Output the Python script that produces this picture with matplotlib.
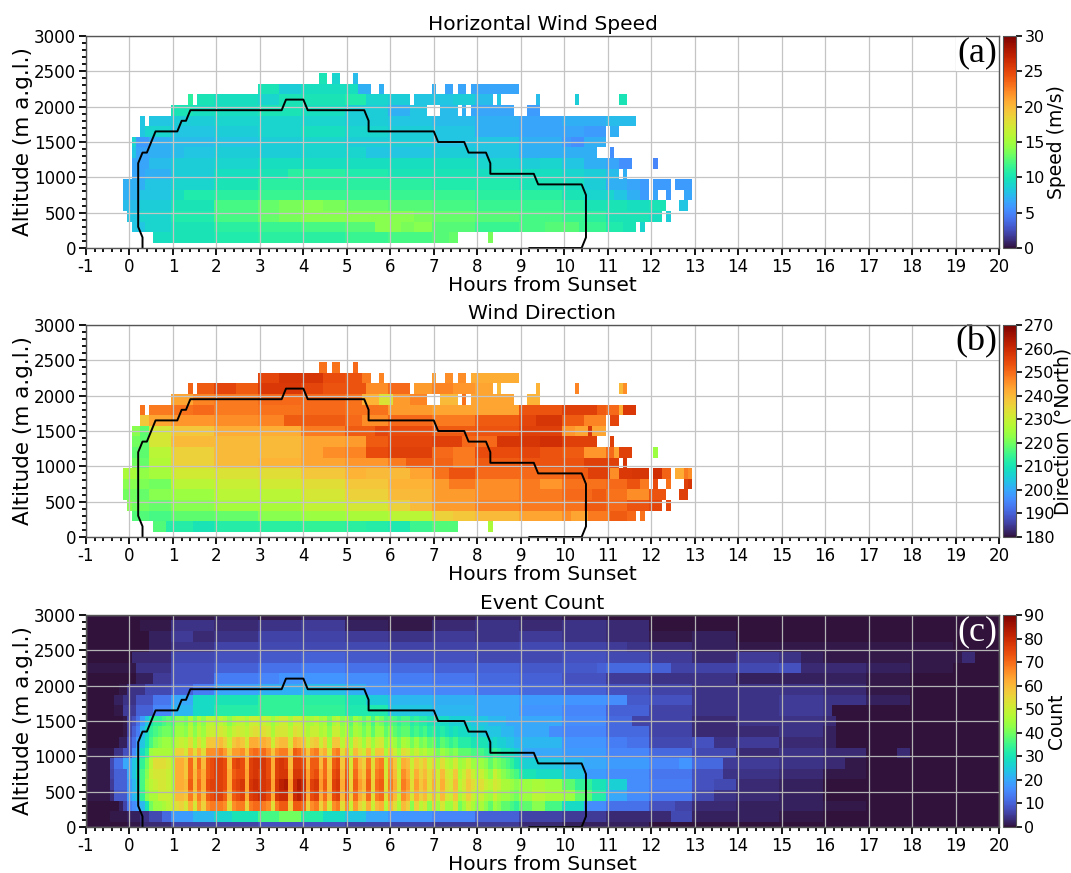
import numpy as np
import matplotlib
matplotlib.use("Agg")
import matplotlib.pyplot as plt
from matplotlib.ticker import MultipleLocator

plt.rcParams["axes.unicode_minus"] = False

N = np.nan
hours = np.round(np.arange(-1, 20.01, 0.1), 1)
altitudes = np.arange(0, 3001, 150)

# Each row: (first hour, value) break points; a value holds until the next break point.
speed_rows = {
 150: [(.6,9.5),(1,10),(2,10.5),(3,11),(4,11),(5,11.5),(6,12),(7,12.5),(7.4,13),(7.6,N),(8.3,13.5),(8.4,N)],
 300: [(.1,8),(.4,9),(1,10),(2,11),(3,11.5),(4,12),(5,12.5),(5.7,14),(6.3,13.5),(6.6,14),(7,12.5),(8,11.5),(9,12),(9.6,12.5),(10.4,11.5),(11,10.5),(11.4,10),(11.7,N),(11.8,9),(11.9,N)],
 450: [(0,8),(.3,9),(1,10.5),(2,12),(3,13),(3.5,13.5),(4,14),(6.6,13.5),(7,13),(8,12.5),(9,12),(10,11.5),(10.5,11),(11,10),(12,9.5),(12.3,N),(12.4,8.5),(12.5,N)],
 600: [(-.1,7.5),(.3,8.5),(1,10),(2,12),(3,13),(3.5,13.5),(4,14),(4.5,13.5),(5,13),(6,12.5),(7,12),(8,11.5),(10,11),(10.5,10),(11.5,9.5),(12,10),(12.4,N),(12.7,8),(12.9,N)],
 750: [(-.1,7),(.3,8),(1,9.5),(1.3,10.5),(2,11),(3,11.5),(8,11),(10,10),(10.5,9),(11.2,8),(11.5,7),(11.8,6),(12,N),(12.1,6.5),(12.2,N),(12.4,6),(12.5,N),(12.8,6.5),(13,N)],
 900: [(-.1,7),(.4,8),(1,9),(2,10),(3,11),(7,10.5),(9,10),(10,9.5),(10.5,8.5),(11,7),(11.5,6.5),(11.8,6),(12,N),(12.1,6),(12.5,N),(12.6,6),(13,N)],
 1050: [(.1,6.5),(.4,7),(1,8.5),(2,9.5),(3,10),(3.7,11),(5,10.5),(6,10),(8,9.5),(10,9),(10.5,8.5),(11,7.5),(11.3,N),(11.4,7),(11.5,N)],
 1200: [(.1,6.5),(.5,7.5),(1,8.5),(2,9),(3,9.5),(8,9),(9,8.5),(9.5,9),(10,8),(10.5,7),(11,6.5),(11.3,5.5),(11.6,N),(12.1,5),(12.2,N)],
 1350: [(.1,8),(.2,6.5),(.5,7),(1,7.5),(1.3,8),(2,8.5),(4,9),(5.5,8),(7,8.5),(8,8),(9,7),(10.8,N),(11.1,5.5),(11.2,N)],
 1500: [(.1,9),(.2,6),(.5,7),(1,7.5),(2,8),(3,8.5),(4,9),(5,8.5),(7,8),(9,7),(10,6),(10.2,5.5),(10.5,7),(11,N)],
 1650: [(.3,8),(.4,9),(1,8),(2,8.5),(3,9),(4,9.5),(5,9),(6,8.5),(7,8),(8,7),(9,6.5),(10.5,6),(11,N),(11.1,7),(11.3,N)],
 1800: [(.3,8),(.4,N),(.5,8),(1,8.5),(2,9),(5,8.5),(6,8),(7,7.5),(8,7),(9,6.5),(10,7),(11,7.5),(11.7,N)],
 1950: [(1,10),(1.5,9.5),(3,10),(4,9.5),(5,8.5),(6,7),(6.5,8),(6.9,N),(7.2,7.5),(7.6,N),(7.7,7),(7.8,N),(7.9,6.5),(8.9,N),(9.2,6),(9.5,N)],
 2100: [(1.4,11),(1.5,N),(1.6,10),(2,9.5),(3,9),(3.5,10),(5,10.5),(5.5,9),(6,8.5),(6.5,N),(6.6,8),(7.5,8.5),(8,7.5),(8.4,N),(8.5,8),(8.6,N),(9.4,7.5),(9.5,N),(10.3,8.5),(10.4,N),(11.3,10),(11.5,N)],
 2250: [(3,10),(3.5,8.5),(4,9.5),(5.3,7),(5.6,N),(5.8,7),(5.9,N),(7,7),(7.1,N),(7.3,6.5),(7.5,N),(7.6,6.5),(7.8,N),(7.9,6.5),(9,N)],
 2400: [(4.4,10),(4.6,N),(4.7,9),(4.9,N),(5.2,7.5),(5.3,N)],
}

direction_rows = {
 150: [(.6,217),(.9,212),(1.5,210),(2,212),(3,213),(4,214),(5,213),(5.5,212),(6,211),(6.5,215),(7,217),(7.6,N),(8.3,226),(8.4,N)],
 300: [(.1,217),(.5,216),(1,218),(2,219),(3,222),(4,224),(5,226),(6,228),(7,236),(7.5,238),(8,240),(9,243),(10,246),(10.2,243),(10.6,248),(11.1,252),(11.5,250),(11.7,N),(11.8,249),(11.9,N)],
 450: [(0,222),(.1,220),(.5,219),(1,222),(2,225),(3,226),(4,229),(5,232),(6,236),(6.5,240),(7,244),(8,247),(9,248),(10,249),(10.5,252),(11,250),(11.5,253),(12,255),(12.3,N),(12.4,255),(12.5,N)],
 600: [(-.1,220),(.2,219),(.5,222),(1,224),(2,228),(4,232),(5,236),(6,240),(7,244),(8,246),(9,248),(10,250),(10.7,252),(11,249),(11.5,246),(12,253),(12.4,N),(12.7,256),(12.9,N)],
 750: [(-.1,222),(.2,221),(.5,220),(1,228),(2,230),(3,231),(4,234),(5,238),(6,241),(7,244),(7.4,248),(8,246),(9,248),(9.5,245),(10,249),(11,250),(11.5,253),(11.8,248),(12,N),(12.1,254),(12.2,N),(12.4,249),(12.5,N),(12.8,256),(12.9,258),(13,N)],
 900: [(-.1,226),(.2,223),(.5,225),(1,231),(2,233),(3,234),(4,238),(5,241),(5.5,240),(6.5,243),(7,249),(7.4,253),(8,250),(9,250),(10,252),(10.6,256),(11.1,246),(11.3,257),(11.6,258),(12,N),(12.1,259),(12.3,251),(12.5,N),(12.6,242),(12.8,248),(12.9,246),(13,N)],
 1050: [(.1,220),(.3,219),(.5,227),(1,236),(2,240),(3,241),(4,243),(5,245),(6,248),(6.4,252),(7,251),(7.5,248),(8,252),(9,253),(10,253),(10.5,256),(11.3,N),(11.4,258),(11.5,N)],
 1200: [(.1,218),(.5,228),(1,236),(2,240),(4,243),(4.5,246),(5,247),(5.5,254),(6,256),(7,250),(7.5,248),(8,254),(9,255),(9.5,253),(10,252),(10.5,245),(11,250),(11.2,243),(11.3,256),(11.6,N),(12.1,224),(12.2,N)],
 1350: [(.1,220),(.3,218),(.5,232),(1,240),(4,243),(5,244),(5.5,252),(6,255),(7,256),(7.7,250),(8,250),(8.5,258),(9.5,259),(10,256),(10.8,N),(11.1,256),(11.2,N)],
 1500: [(.1,222),(.3,218),(.5,232),(1,238),(2,242),(4,248),(5,252),(5.7,255),(6,254),(7,252),(8,253),(9,256),(10,245),(10.3,243),(10.6,258),(10.7,243),(11,N)],
 1650: [(.3,238),(.5,243),(1,245),(2,246),(3,247),(3.6,252),(5,250),(5.4,246),(6,250),(7,248),(8,252),(9,255),(9.4,258),(10,252),(10.5,247),(11,N),(11.1,255),(11.3,N)],
 1800: [(.3,249),(.4,N),(.5,248),(1,249),(1.5,250),(2,248),(3,249),(4,250),(5,249),(6,244),(7,243),(9,253),(10,256),(10.8,252),(11,250),(11.3,242),(11.4,257),(11.7,N)],
 1950: [(1,243),(1.5,247),(2,248),(3,250),(5,249),(5.4,241),(5.8,233),(6.1,244),(6.5,247),(6.9,N),(7.2,240),(7.6,N),(7.7,249),(7.8,N),(7.9,243),(8.9,N),(9.2,241),(9.5,N)],
 2100: [(1.4,251),(1.5,N),(1.6,252),(2,255),(2.5,252),(3,257),(4,255),(4.5,253),(5.5,246),(6,250),(6.5,N),(6.6,244),(7,247),(7.5,245),(8,243),(8.4,N),(8.5,240),(8.6,N),(9.4,241),(9.5,N),(10.3,247),(10.4,N),(11.3,240),(11.4,246),(11.5,N)],
 2250: [(3,255),(3.5,258),(4.5,254),(5,253),(5.4,248),(5.6,N),(5.8,247),(5.9,N),(7,244),(7.1,N),(7.3,246),(7.5,N),(7.6,246),(7.8,N),(7.9,242),(9,N)],
 2400: [(4.4,249),(4.6,N),(4.7,249),(4.9,N),(5.2,250),(5.3,N)],
}

count_rows = {
 0: [(-1,0),(0,1),(.3,3),(1,6),(3,8),(5,6),(7,5),(9,3),(10,2),(12,0)],
 150: [(-1,0),(-.4,1),(0,2),(.3,4),(.5,7),(.8,11),(1,18),(1.5,22),(2,27),(2.4,30),(3,36),(3.5,40),(4,32),(4.5,28),(5,24),(5.5,20),(6,17),(7,15),(8,10),(9,6),(10,5),(11,3),(12,3),(12.5,7),(13,2),(15,1),(16,0)],
 300: [(-1,0),(-.2,2),(-.1,6),(0,14),(9,38),(9.3,42),(9.6,36),(10,28),(10.5,16),(11,12),(12,8),(12.6,6),(13,3),(14,2),(16,1),(17,0)],
 450: [(-1,1),(-.4,3),(-.3,9),(0,18),(9,44),(9.3,48),(9.6,46),(10,44),(10.3,38),(10.7,32),(11,20),(11.5,16),(12,13),(13,7),(13.5,4),(14,3),(15,2),(16,0)],
 600: [(-1,1),(-.4,5),(-.3,10),(0,18),(9,44),(9.3,46),(9.6,44),(10,38),(10.3,34),(10.7,30),(11,26),(11.5,16),(12,14),(13,8),(13.5,7),(14,3),(15,2),(16,0)],
 750: [(-1,1),(-.4,6),(-.3,10),(0,20),(9,30),(9.4,28),(10,24),(10.5,18),(11,16),(12,13),(13,8),(13.7,4),(15,3),(16,1),(17,0)],
 900: [(-1,1),(-.4,7),(-.3,12),(-.1,20),(9,26),(9.5,24),(10,22),(10.5,20),(11,18),(12,15),(12.7,17),(13,11),(13.7,5),(15,4),(16,3),(16.5,1),(17,0)],
 1050: [(-1,1),(-.3,4),(-.1,8),(.1,16),(9,20),(10,18),(11,15),(12,11),(13,7),(14,3),(15,4),(16,3),(17,0),(17.7,3),(18,0)],
 1200: [(-1,0),(-.2,2),(0,8),(.1,14),(9,22),(10,17),(11,14),(11.5,12),(12,7),(13,8),(13.5,4),(14,5),(15,3),(16,2),(16.3,0)],
 1350: [(-1,0),(-.1,1),(0,6),(.2,12),(9,20),(9.7,16),(10,15),(11,11),(12,6),(13,3),(15,4),(16,2),(16.3,0)],
 1500: [(-1,0),(-.1,1),(0,6),(.2,10),(9,20),(10,16),(11,11),(11.6,6),(13,3),(14,4),(15,4),(16,3),(16.3,0)],
 1650: [(-1,0),(-.3,1),(-.1,5),(.2,10),(.6,15),(1,22),(1.5,28),(2,32),(3,34),(4,34),(5,31),(6,24),(7,22),(8,20),(9,17),(10,15),(11,10),(12,6),(13,4),(15,5),(16,4),(16.2,0)],
 1800: [(-1,0),(-.3,2),(-.1,4),(.2,8),(.6,13),(1,20),(1.5,28),(2,30),(3,34),(4,33),(5,30),(5.5,25),(6,22),(7,21),(8,20),(9,18),(10,17),(11,16),(11.5,9),(12,8),(13,4),(15,5),(16,4),(17,2),(18,0)],
 1950: [(-1,0),(-.2,1),(0,4),(.4,7),(1,10),(1.5,14),(2,19),(3,21),(4,23),(5,21),(5.5,17),(6,16),(7,15),(8,13),(9,11),(10,10),(11,8),(12,6),(13,4),(15,4),(16,3),(17,1),(18,0)],
 2100: [(-1,0),(.2,2),(.6,5),(1,8),(2,14),(3,15),(3.5,17),(5,16),(6,14),(7,13),(8,11),(9,10),(10,8),(11,5),(12,4),(14,2),(15,2),(17,1),(18,0)],
 2250: [(-1,1),(0,1),(.2,4),(1,8),(2,10),(3,12),(4,14),(5,12),(6,11),(7,10),(8,10),(9,9),(10,9),(10.8,10),(11,11),(12,10),(12.5,6),(13,6),(14,7),(15,8),(15.5,3),(17,2),(18,1),(19,0)],
 2400: [(-1,0),(.1,3),(1,7),(2,8),(3,9),(4,10),(5,9),(6,8),(7,8),(8,7),(9,7),(10,8),(11,7),(12,5),(13,3),(14,5),(15,4),(15.5,2),(16,1),(18,1),(19.2,3),(19.5,0)],
 2550: [(-1,0),(.5,2),(1,4),(2,6),(3,7),(4,7),(5,7),(6,6),(7,6),(8,6),(9,7),(10,6),(11,5),(11.5,4),(12,3),(13,2),(14,1),(18,1),(19,0)],
 2700: [(-1,0),(.5,2),(1,5),(1.5,3),(2,4),(3,6),(4,6),(5,5),(6,4),(7,5),(8,4),(9,5),(10,4),(11,3),(12,1),(13,2),(14,0)],
 2850: [(-1,0),(.3,1),(1,4),(2,3),(3,4),(4,5),(5,2),(6,1),(7,3),(8,4),(9,3),(10,4),(11,3),(12,0)],
 3000: [(-1,0),(1,1),(2,2),(3,1),(4,2),(5,1),(7,1),(8,2),(9,2),(10,1),(11,0)],
}

# Hour 0.0 to 9.0 in steps of 0.1 for the striped central rows.
core_300 = [14,16,18,22,30,40,44,44,46,48,50,54,56,52,62,52,64,56,66,68,68,68,66,54,66,68,68,56,68,70,70,68,66,54,68,72,72,56,72,72,70,56,66,68,56,64,52,66,68,54,66,50,64,56,52,62,50,60,62,48,60,54,46,60,56,42,56,48,52,42,56,44,52,44,44,52,40,44,50,46,42,46,42,38,44,42,38,38,36,34,38]
core_450 = [18,22,26,34,42,46,46,50,50,50,48,60,60,58,68,58,68,60,72,74,76,76,72,60,72,74,76,62,76,78,80,78,74,62,78,80,80,62,80,82,78,62,74,76,62,70,60,74,76,60,72,56,70,62,58,70,54,68,70,54,66,60,50,66,62,52,62,56,60,52,60,50,60,52,50,58,46,50,56,50,46,50,46,44,50,46,44,44,42,40,44]
core_600 = [18,22,28,36,44,48,50,52,52,50,46,62,62,60,72,60,70,62,74,76,76,76,74,62,74,76,78,63,78,80,78,78,76,63,78,82,84,64,80,84,80,64,76,78,64,72,60,76,78,62,74,56,72,64,60,72,56,70,72,54,68,62,52,68,64,54,64,58,62,54,62,52,62,54,52,60,48,52,58,54,50,54,50,48,52,50,46,46,44,42,44]
core_750 = [20,24,30,36,42,50,52,52,52,50,46,62,62,58,70,60,68,62,72,74,76,76,74,62,72,74,74,63,76,78,76,78,74,62,76,78,78,62,78,78,76,63,72,74,63,70,60,74,76,60,72,54,70,62,58,70,55,68,70,52,66,60,50,66,62,52,62,56,60,54,60,50,60,52,50,58,46,50,56,50,46,50,46,42,50,46,42,40,38,36,32]
core_900 = [20,24,28,34,40,48,54,54,54,52,46,62,62,58,70,58,70,60,72,74,76,76,74,60,74,76,74,62,76,78,78,78,74,62,76,78,76,60,76,76,74,60,72,72,60,70,58,72,74,58,70,52,68,60,56,68,54,66,68,50,64,58,48,62,60,50,58,54,58,50,56,46,54,48,46,52,44,46,50,44,44,44,42,38,42,40,38,36,34,30,28]
core_1050 = [8,16,22,28,34,44,46,46,46,46,44,56,56,52,62,54,62,54,66,66,66,68,64,56,64,64,66,58,68,70,68,70,66,58,66,68,68,58,72,70,66,58,66,68,58,62,52,66,68,54,62,48,60,54,50,60,48,58,58,46,56,50,44,54,52,46,50,46,48,44,46,40,44,42,40,42,38,38,38,36,36,36,34,32,34,32,30,30,28,26,24]
core_1200 = [8,12,18,24,30,36,40,42,44,44,42,48,50,48,54,46,54,48,58,58,58,60,56,50,58,60,58,52,62,62,60,62,60,50,58,60,60,52,62,60,58,50,56,58,50,56,46,58,58,48,56,44,54,50,44,52,44,50,52,42,48,44,40,46,44,40,44,40,42,38,40,34,38,36,34,36,32,32,32,30,30,30,30,26,28,26,26,24,24,22,22]
core_1350 = [6,10,14,22,28,34,36,38,40,40,38,44,44,42,48,42,48,44,50,50,50,52,50,46,50,52,50,48,52,54,52,54,52,46,52,52,52,48,54,52,50,46,50,50,46,48,42,50,50,44,48,40,46,44,40,44,38,44,44,38,42,38,36,38,38,34,36,34,36,32,34,30,32,30,28,30,28,28,28,26,26,26,24,24,24,24,22,22,22,20,20]
core_1500 = [6,8,12,18,24,30,34,34,36,38,36,42,42,40,46,40,46,42,48,48,46,48,46,42,46,48,48,45,50,50,48,50,48,44,48,50,50,45,50,50,48,44,46,48,44,46,40,46,48,42,46,38,44,42,38,42,36,42,40,36,38,36,34,36,36,32,34,32,32,30,30,28,28,28,26,26,26,26,26,24,24,24,24,22,22,22,22,20,20,20,20]

core_rows = {300: core_300, 450: core_450, 600: core_600, 750: core_750, 900: core_900,
             1050: core_1050, 1200: core_1200, 1350: core_1350, 1500: core_1500}

boundary_hours = [0.3,0.3,0.2,0.2,0.3,0.4,0.6,1.1,1.2,1.3,1.4,3.5,3.6,4.0,4.1,5.4,5.5,5.5,7.0,7.1,7.7,7.8,8.2,8.3,8.3,9.3,9.4,10.4,10.5,10.5,10.4,9.2]
boundary_alts = [0,150,300,1200,1350,1350,1650,1650,1800,1800,1950,1950,2100,2100,1950,1950,1800,1650,1650,1500,1500,1350,1350,1200,1050,1050,900,900,750,150,0,0]

titles = ["Horizontal Wind Speed", "Wind Direction", "Event Count"]
bar_labels = ["Speed (m/s)", "Direction (°North)", "Count"]
panel_labels = ["(a)", "(b)", "(c)"]
vlims = [(0, 30), (180, 270), (0, 90)]
bar_steps = [5, 10, 10]
x_ticks = list(range(-1, 21))
y_ticks = [0, 500, 1000, 1500, 2000, 2500, 3000]


def expand(rows):
    grid = np.full((len(altitudes), len(hours)), np.nan)
    for alt, breaks in rows.items():
        r = int(np.where(altitudes == alt)[0][0])
        for k, (start, value) in enumerate(breaks):
            stop = breaks[k + 1][0] if k + 1 < len(breaks) else 20.05
            grid[r, (hours >= start - 1e-6) & (hours < stop - 1e-6)] = value
    return grid


speed = expand(speed_rows)
direction = expand(direction_rows)
count = expand(count_rows)
for alt, vals in core_rows.items():
    r = int(np.where(altitudes == alt)[0][0])
    c0 = int(np.where(hours == 0.0)[0][0])
    count[r, c0:c0 + len(vals)] = vals

W, H = 1071, 873
fig = plt.figure(figsize=(W / 100, H / 100), dpi=100)
boxes = [(36, 248), (325, 537), (615, 827)]
left, right = 86, 999
cb_left, cb_right = 1003, 1016
grids = [speed, direction, count]
bar_pads = [2, -1, 2]

for i, (top, bottom) in enumerate(boxes):
    ax = fig.add_axes([left / W, 1 - bottom / H, (right - left) / W, (bottom - top) / H])
    mesh = ax.pcolormesh(hours, altitudes, grids[i], cmap="turbo", vmin=vlims[i][0], vmax=vlims[i][1],
                         shading="nearest", rasterized=True, zorder=1)
    ax.set_xlim(-1, 20)
    ax.set_ylim(0, 3000)
    ax.set_xticks(x_ticks)
    ax.set_yticks(y_ticks)
    ax.xaxis.set_minor_locator(MultipleLocator(0.2))
    ax.yaxis.set_minor_locator(MultipleLocator(100))
    ax.tick_params(which="major", labelsize=12, length=5, width=1.3, pad=2)
    ax.tick_params(which="minor", length=3, width=1.3)
    ax.grid(True, which="major", color="#c4c4c4" if i < 2 else "#b4b4b4", lw=0.9, zorder=2)
    ax.set_axisbelow(False)
    ax.plot(boundary_hours, boundary_alts, color="black", lw=1.4, zorder=3)
    ax.set_title(titles[i], fontsize=14.5, pad=4)
    ax.set_xlabel("Hours from Sunset", fontsize=14.5, labelpad=0)
    ax.set_ylabel("Altitude (m a.g.l.)", fontsize=15.5, labelpad=1)
    for s in ax.spines.values():
        s.set_color("#555555")
        s.set_linewidth(1.0)
        s.set_zorder(6)
    white = i == 2
    ax.text(0.9985, 0.998, panel_labels[i], transform=ax.transAxes, ha="right", va="top",
            family="Liberation Serif", fontsize=26, color="white" if white else "black", zorder=5,
            bbox=None if white else dict(facecolor="white", edgecolor="none", pad=1))
    cax = fig.add_axes([cb_left / W, 1 - bottom / H, (cb_right - cb_left) / W, (bottom - top) / H])
    cb = fig.colorbar(mesh, cax=cax)
    cb.set_ticks(np.arange(vlims[i][0], vlims[i][1] + 1, bar_steps[i]))
    cb.ax.tick_params(labelsize=11.5, length=4, width=1.2, pad=2)
    cb.set_label(bar_labels[i], fontsize=13.5, labelpad=bar_pads[i])
    cb.outline.set_edgecolor("#555555")

fig.savefig("out.png", dpi=100)
